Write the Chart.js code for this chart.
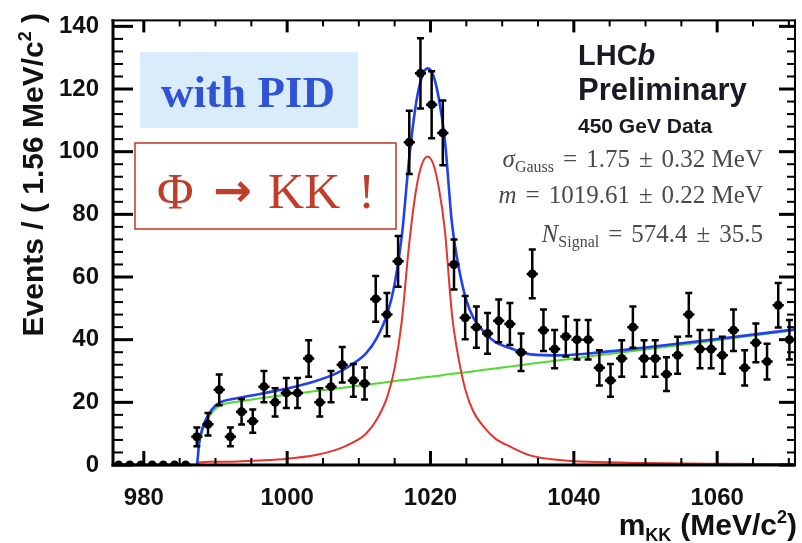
<!DOCTYPE html>
<html>
<head>
<meta charset="utf-8">
<script src="https://cdn.jsdelivr.net/npm/chart.js@4.4.1/dist/chart.umd.min.js"></script>
<style>
  html, body { margin: 0; padding: 0; background: #fff; }
  #wrap { position: relative; width: 802px; height: 543px; }
</style>
</head>
<body>
<div id="wrap"><canvas id="c" width="802" height="543"></canvas></div>
<script>
// m(KK) histogram, 1.56 MeV/c^2 bins (bin centres)
const binCenters = [
    976.48, 978.04, 979.60, 981.16, 982.72, 984.28, 985.84, 987.40, 988.96, 990.52,
    992.08, 993.64, 995.20, 996.76, 998.32, 999.88, 1001.44, 1003.00, 1004.56, 1006.12,
    1007.68, 1009.24, 1010.80, 1012.36, 1013.92, 1015.48, 1017.04, 1018.60, 1020.16, 1021.72,
    1023.28, 1024.84, 1026.40, 1027.96, 1029.52, 1031.08, 1032.64, 1034.20, 1035.76, 1037.32,
    1038.88, 1040.44, 1042.00, 1043.56, 1045.12, 1046.68, 1048.24, 1049.80, 1051.36, 1052.92,
    1054.48, 1056.04, 1057.60, 1059.16, 1060.72, 1062.28, 1063.84, 1065.40, 1066.96, 1068.52,
    1070.08
];
const counts = [
    0, 0, 0, 0, 0, 0, 0, 9, 13, 24,
    9, 17, 14, 25, 20, 23, 23, 34, 20, 25,
    32, 27, 26, 53, 48, 65, 103, 125, 115, 106,
    64, 47, 44, 42, 46, 45, 36, 61, 43, 37,
    41, 40, 40, 31, 27, 34, 44, 34, 34, 29,
    35, 48, 37, 37, 35, 43, 31, 39, 33, 51,
    40
];
const countErrors = [
    0, 0, 0, 0, 0, 0, 0, 3.0, 3.6, 4.9,
    3.0, 4.1, 3.7, 5.0, 4.5, 4.8, 4.8, 5.8, 4.5, 5.0,
    5.7, 5.2, 5.1, 7.3, 6.9, 8.1, 10.1, 11.2, 10.7, 10.3,
    8.0, 6.9, 6.6, 6.5, 6.8, 6.7, 6.0, 7.8, 6.6, 6.1,
    6.4, 6.3, 6.3, 5.6, 5.2, 5.8, 6.6, 5.8, 5.8, 5.4,
    5.9, 6.9, 6.1, 6.1, 5.9, 6.6, 5.6, 6.2, 5.7, 7.1,
    6.3
];
const binHalfWidth = 0.78;

// fit curves at these masses
const curveX = [
    975.7, 987.4, 987.7, 988.2, 989, 990, 991, 993, 996, 1000,
    1004, 1007, 1009, 1011, 1012.5, 1014, 1015, 1016, 1017, 1018,
    1018.8, 1019.6, 1020.4, 1021.2, 1022, 1023, 1024, 1025, 1026, 1027.5,
    1029, 1031, 1034, 1038, 1042, 1050, 1060, 1070.86
];
const bkgCurve = [
    0, 0, 6, 11, 15, 18, 19.3, 20.2, 21.2, 22.4,
    23.6, 24.4, 25.0, 25.6, 26.0, 26.5, 26.8, 27.1, 27.3, 27.6,
    27.9, 28.1, 28.3, 28.5, 28.8, 29.1, 29.4, 29.6, 29.9, 30.4,
    30.8, 31.4, 32.3, 33.4, 34.6, 36.9, 39.8, 43.0
];
const sigCurve = [
    0, 0, 0.9, 0.9, 1.0, 1.0, 1.0, 1.1, 1.4, 2.0,
    3.2, 5.0, 7.0, 10, 14.5, 22, 31, 46, 70, 88,
    96, 98.5, 96, 88, 75, 48, 33, 23, 17, 12,
    8.5, 6, 3, 1.6, 1.0, 0.6, 0.4, 0.3
];
const totalCurve = [
    0, 0, 6.9, 11.9, 16, 19, 20.3, 21.3, 22.6, 24.4,
    26.8, 29.4, 32, 35.6, 40.5, 48.5, 57.8, 73.1, 97.3, 115.6,
    123.9, 126.6, 124.3, 116.5, 103.8, 77.1, 62.4, 52.6, 46.9, 42.4,
    39.3, 37.4, 35.3, 35.0, 35.6, 37.5, 40.2, 43.3
];

const xTicks = [980, 1000, 1020, 1040, 1060];
const yTicks = [0, 20, 40, 60, 80, 100, 120, 140];
const xMinorStep = 5;
const yMinorStep = 4;
const xRange = [975.7, 1070.86];
const yRange = [0, 141.9];

// symbol, subscript, value, error, unit
const statLines = [
    ['\u03C3', 'Gauss', '1.75', '0.32', ' MeV'],
    ['m', '', '1019.61', '0.22', ' MeV'],
    ['N', 'Signal', '574.4', '35.5', '']
];

// draw a run of text pieces: [text, font, dy, extraGap]
function drawRich(ctx, segs, x, y, align) {
    let w = 0;
    segs.forEach(s => { ctx.font = s[1]; w += ctx.measureText(s[0]).width + (s[3] || 0); });
    let cx = align === 'right' ? x - w : align === 'center' ? x - w / 2 : x;
    ctx.textAlign = 'left';
    segs.forEach(s => {
        ctx.font = s[1];
        ctx.fillText(s[0], cx, y + (s[2] || 0));
        cx += ctx.measureText(s[0]).width + (s[3] || 0);
    });
}

const SANS = "'Liberation Sans', Arial, sans-serif";
const SERIF = "'Liberation Serif', 'Times New Roman', serif";

const boxes = {
    id: 'boxes',
    beforeDatasetsDraw(chart) {
        const ctx = chart.ctx;
        ctx.save();
        ctx.textBaseline = 'alphabetic';

        // "with PID" label
        ctx.fillStyle = '#d9ecfb';
        ctx.fillRect(140, 52, 218, 76);
        ctx.fillStyle = '#3053d6';
        drawRich(ctx, [['with PID', 'bold 45px ' + SERIF]], 248, 107, 'center');

        // "Phi -> KK !" label
        ctx.fillStyle = '#fff';
        ctx.fillRect(135, 143, 261, 86);
        ctx.strokeStyle = '#c8402e';
        ctx.lineWidth = 1.6;
        ctx.strokeRect(135, 143, 261, 86);
        ctx.fillStyle = '#c23c2a';
        drawRich(ctx, [
            ['\u03A6', '50px ' + SERIF, 0, 20],
            ['\u2192', 'bold 46px ' + "'DejaVu Sans'", -2, 16],
            ['KK', '50px ' + SERIF, 0, 18],
            ['!', '50px ' + SERIF]
        ], 157, 208, 'left');

        // LHCb block
        ctx.fillStyle = '#1a1a22';
        drawRich(ctx, [['LHC', 'bold 29px ' + SANS], ['b', 'italic bold 29px ' + SANS]], 578, 65, 'left');
        drawRich(ctx, [['Preliminary', 'bold 31px ' + SANS]], 578, 100, 'left');
        drawRich(ctx, [['450 GeV Data', 'bold 21px ' + SANS]], 578, 133, 'left');

        // fit results
        ctx.fillStyle = '#4a4a4a';
        const baselines = [167, 203, 242];
        const f = '25px ' + SERIF;
        statLines.forEach((l, i) => {
            const segs = [[l[0], 'italic ' + f]];
            if (l[1]) segs.push([l[1], '16px ' + SERIF, 5]);
            segs[segs.length - 1][3] = 9;
            segs.push(['=', f, 0, 9], [l[2], f, 0, 9], ['\u00B1', f, 0, 9], [l[3], f]);
            if (l[4]) segs.push([l[4], f]);
            drawRich(ctx, segs, 763, baselines[i], 'right');
        });
        ctx.restore();
    }
};

const errorBars = {
    id: 'errorBars',
    afterDatasetsDraw(chart) {
        const { ctx, chartArea: a, scales: { x, y } } = chart;
        ctx.save();
        ctx.beginPath();
        ctx.rect(a.left, a.top, a.width, a.height + 4);
        ctx.clip();
        ctx.strokeStyle = '#000';
        ctx.lineWidth = 2.5;
        binCenters.forEach((c, i) => {
            const px = x.getPixelForValue(c);
            const py = y.getPixelForValue(counts[i]);
            ctx.beginPath();
            ctx.moveTo(x.getPixelForValue(c - binHalfWidth), py);
            ctx.lineTo(x.getPixelForValue(c + binHalfWidth), py);
            if (countErrors[i] > 0) {
                const top = y.getPixelForValue(counts[i] + countErrors[i]);
                const bot = y.getPixelForValue(counts[i] - countErrors[i]);
                ctx.moveTo(px, top); ctx.lineTo(px, bot);
                ctx.moveTo(px - 3.5, top); ctx.lineTo(px + 3.5, top);
                ctx.moveTo(px - 3.5, bot); ctx.lineTo(px + 3.5, bot);
            }
            ctx.stroke();
        });
        ctx.restore();
    }
};

// ROOT-style frame with inward ticks on all four sides, plus axis titles
const frameTicks = {
    id: 'frameTicks',
    afterDraw(chart) {
        const ctx = chart.ctx;
        const a = chart.chartArea;
        const xs = chart.scales.x;
        const ys = chart.scales.y;
        ctx.save();
        ctx.fillStyle = '#000';

        // minor ticks
        for (let v = xTicks[0] - xMinorStep; v <= xRange[1]; v += xMinorStep) {
            if (v < xRange[0] || xTicks.indexOf(v) >= 0) continue;
            const p = xs.getPixelForValue(v);
            ctx.fillRect(p - 1, a.bottom - 7, 2, 7);
            ctx.fillRect(p - 1, a.top, 2, 6);
        }
        for (let v = yTicks[0] + yMinorStep; v < yRange[1]; v += yMinorStep) {
            if (yTicks.indexOf(v) >= 0) continue;
            const p = ys.getPixelForValue(v);
            ctx.fillRect(a.left, p - 1, 10, 2);
            ctx.fillRect(a.right - 8, p - 1, 8, 2);
        }
        // major ticks
        xTicks.forEach(v => {
            const p = xs.getPixelForValue(v);
            ctx.fillRect(p - 1.5, a.bottom - 14, 3, 14);
            ctx.fillRect(p - 1.5, a.top, 3, 12);
        });
        yTicks.forEach(v => {
            const p = ys.getPixelForValue(v);
            ctx.fillRect(a.left, p - 1.5, 20, 3);
            ctx.fillRect(a.right - 16, p - 1.5, 16, 3);
        });

        // frame
        ctx.fillRect(a.left - 1.5, a.top - 1, a.right - a.left + 2.5, 2);
        ctx.fillRect(a.right - 1, a.top - 1, 2, a.bottom - a.top + 2);
        ctx.fillRect(a.left - 1.5, a.top - 1, 3, a.bottom - a.top + 2.5);
        ctx.fillRect(a.left - 1.5, a.bottom - 1.5, a.right - a.left + 2.5, 3);

        // axis titles
        ctx.fillStyle = '#111';
        ctx.textBaseline = 'alphabetic';
        drawRich(ctx, [
            ['m', 'bold 30px ' + SANS],
            ['KK', 'bold 18px ' + SANS, 6, 9],
            ['(MeV/c', 'bold 30px ' + SANS],
            ['2', 'bold 18px ' + SANS, -12],
            [')', 'bold 30px ' + SANS]
        ], 797, 535, 'right');

        ctx.translate(43, 13);
        ctx.rotate(-Math.PI / 2);
        drawRich(ctx, [
            ['Events / ( 1.56 MeV/c', 'bold 30px ' + SANS],
            ['2', 'bold 18px ' + SANS, -12],
            [' )', 'bold 30px ' + SANS]
        ], 0, 0, 'right');
        ctx.restore();
    }
};

const curveStyle = { pointRadius: 0, fill: false, cubicInterpolationMode: 'monotone', showLine: true };
const tickFont = { family: SANS, size: 24, weight: 'bold' };

new Chart(document.getElementById('c'), {
    type: 'scatter',
    data: {
        datasets: [
            {
                label: 'data',
                data: binCenters.map((c, i) => ({ x: c, y: counts[i] })),
                pointRadius: 4.5,
                pointBackgroundColor: '#000',
                pointBorderWidth: 0,
                showLine: false,
                order: 0
            },
            Object.assign({
                label: 'total',
                data: curveX.map((c, i) => ({ x: c, y: totalCurve[i] })),
                borderColor: '#2040f2',
                borderWidth: 2.6,
                order: 1
            }, curveStyle),
            Object.assign({
                label: 'signal',
                data: curveX.map((c, i) => ({ x: c, y: sigCurve[i] })),
                borderColor: '#e8322a',
                borderWidth: 2,
                order: 2
            }, curveStyle),
            Object.assign({
                label: 'background',
                data: curveX.map((c, i) => ({ x: c, y: bkgCurve[i] })),
                borderColor: '#4fdc2c',
                borderWidth: 2,
                order: 3
            }, curveStyle)
        ]
    },
    options: {
        responsive: false,
        animation: false,
        layout: { padding: { top: 14, right: 7, left: 0, bottom: 0 } },
        plugins: {
            legend: { display: false },
            tooltip: { enabled: false }
        },
        scales: {
            x: {
                type: 'linear',
                min: xRange[0],
                max: xRange[1],
                grid: { display: false },
                border: { display: false },
                afterBuildTicks: s => { s.ticks = xTicks.map(v => ({ value: v })); },
                afterFit: s => { s.height = 78; },
                ticks: {
                    padding: 11,
                    maxRotation: 0,
                    color: '#111',
                    font: tickFont,
                    callback: v => String(v)
                }
            },
            y: {
                type: 'linear',
                min: yRange[0],
                max: yRange[1],
                grid: { display: false },
                border: { display: false },
                afterBuildTicks: s => { s.ticks = yTicks.map(v => ({ value: v })); },
                afterFit: s => { s.width = 113; },
                ticks: {
                    padding: 6,
                    color: '#111',
                    font: tickFont,
                    callback: v => String(v)
                }
            }
        }
    },
    plugins: [boxes, errorBars, frameTicks]
});
</script>
</body>
</html>
